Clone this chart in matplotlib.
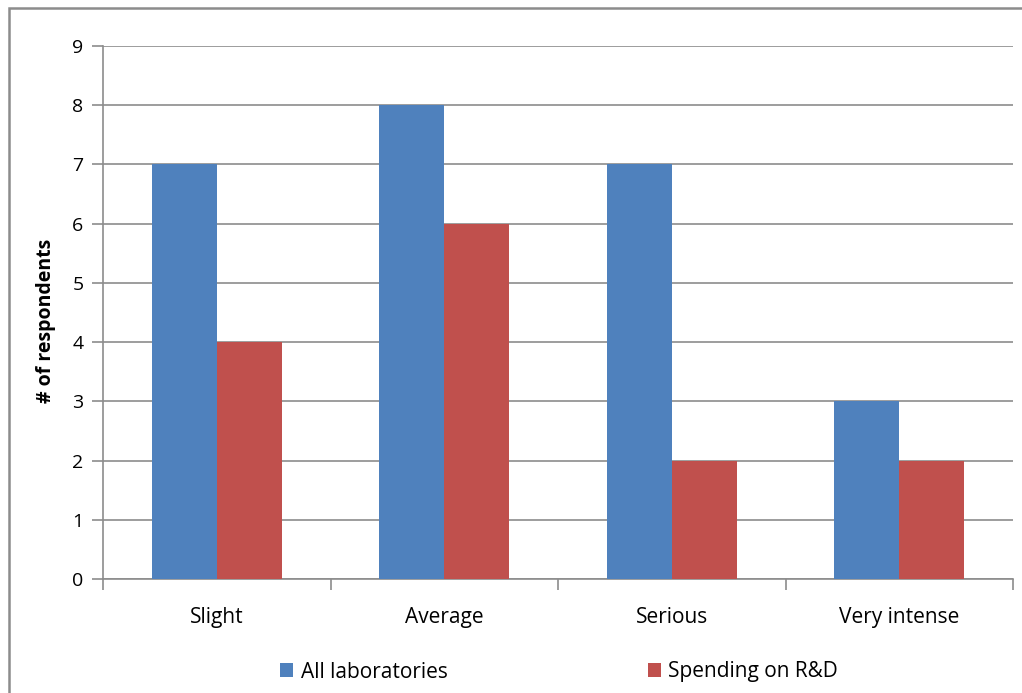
import matplotlib.pyplot as plt
import numpy as np
from matplotlib.patches import Rectangle

categories = ["Slight", "Average", "Serious", "Very intense"]
all_labs = [7, 8, 7, 3]
spending_rd = [4, 6, 2, 2]
series_names = ["All laboratories", "Spending on R&D"]

plt.rcParams['font.family'] = ['Open Sans', 'DejaVu Sans']

fig = plt.figure(figsize=(10.22, 6.93), dpi=100)
ax = fig.add_axes([103 / 1022, 1 - 579 / 693, 910 / 1022, (579 - 46) / 693])

# outer chart frame, running off the right and bottom edges
fig.patches.append(Rectangle((9 / 1022, -0.1), 1.2, 1 - 8 / 693 + 0.1,
                             transform=fig.transFigure, fill=False,
                             edgecolor='#8c8c8c', linewidth=1.8))

x = np.arange(len(categories))
w = 1 / 3.5
ax.bar(x - w / 2, all_labs, w, color='#4F81BD', label=series_names[0], zorder=3)
ax.bar(x + w / 2, spending_rd, w, color='#C0504D', label=series_names[1], zorder=3)

ax.set_xlim(-0.5, len(categories) - 0.5)
ax.set_ylim(0, 9)
ax.set_yticks(range(10))
ax.yaxis.grid(True, color='#8c8c8c', linewidth=1.2, zorder=0)

ax.set_xticks(x)
ax.set_xticklabels(categories, fontsize=15)
ax.set_xticks(np.arange(-0.5, len(categories)), minor=True)
ax.tick_params(axis='x', which='major', length=0, pad=20)
ax.tick_params(axis='x', which='minor', length=8, width=1.2, color='#8c8c8c', direction='out')
ax.tick_params(axis='y', length=8, width=1.2, color='#8c8c8c', labelsize=14, pad=6)

for side in ['top', 'right']:
    ax.spines[side].set_visible(False)
for side in ['left', 'bottom']:
    ax.spines[side].set_color('#8c8c8c')
    ax.spines[side].set_linewidth(1.2)

ax.set_ylabel("# of respondents", fontsize=14, fontweight='bold', labelpad=12)
ax.yaxis.label.set_y(0.484)

fig.legend(loc='center', bbox_to_anchor=(0.547, 1 - 672 / 693), ncol=2, frameon=False,
           fontsize=15, handlelength=0.65, handleheight=0.65, handletextpad=0.35,
           columnspacing=9.6)

fig.savefig("out.png", dpi=100)
